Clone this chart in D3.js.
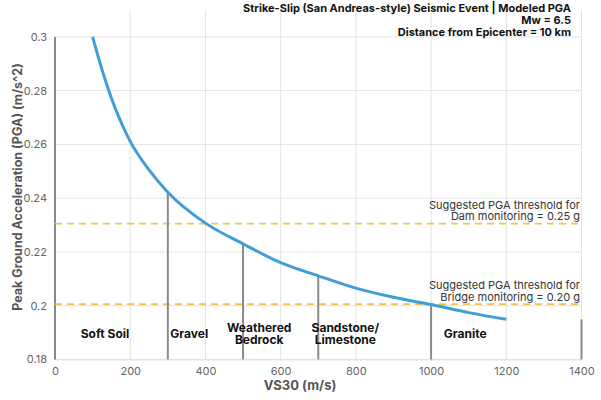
<!DOCTYPE html>
<html>
<head>
<meta charset="utf-8">
<script src="https://cdn.jsdelivr.net/npm/d3@7"></script>
<style>
  html, body { margin: 0; padding: 0; background: #fff; }
  svg { display: block; font-family: "Inter", "Open Sans", sans-serif; }
</style>
</head>
<body>
<svg id="chart" width="601" height="400"></svg>
<script>
// ---- Data ----
const vs30 = [100, 125, 150, 175, 200, 250, 300, 400, 500, 600, 700, 800, 900, 1000, 1100, 1200];
const pga  = [0.300, 0.2878, 0.2772, 0.2685, 0.2611, 0.2505, 0.2422, 0.2307, 0.2230, 0.2160, 0.2111, 0.2065, 0.2031, 0.2004, 0.1974, 0.1949];

const boundaryX   = [300, 500, 700, 1000, 1400];
const boundaryTop = [0.2422, 0.2230, 0.2111, 0.2004, 0.1949];

const zoneNames = [["Soft Soil"], ["Gravel"], ["Weathered", "Bedrock"], ["Sandstone/", "Limestone"], ["Granite"]];
const zoneLabelX = [133, 357, 543, 772, 1091];

const thresholdValues = [0.2305, 0.2006];
const thresholdLines = [
  ["Suggested PGA threshold for", "Dam monitoring = 0.25 g"],
  ["Suggested PGA threshold for", "Bridge monitoring = 0.20 g"]
];

const xTicks = [0, 200, 400, 600, 800, 1000, 1200, 1400];
const xTickLabels = ["0", "200", "400", "600", "800", "1000", "1200", "1400"];
const yTicks = [0.18, 0.2, 0.22, 0.24, 0.26, 0.28, 0.3];
const yTickLabels = ["0.18", "0.2", "0.22", "0.24", "0.26", "0.28", "0.3"];

const titleLines = [
  "Strike-Slip (San Andreas-style) Seismic Event | Modeled PGA",
  "Mw = 6.5",
  "Distance from Epicenter = 10 km"
];

// ---- Layout ----
const svg = d3.select("#chart");
const pL = 55, pR = 581.5, pT = 10, pB = 359.4;
const x = d3.scaleLinear().domain([0, 1400]).range([pL, pR]);
const y = d3.scaleLinear().domain([0.18, 0.31]).range([pB, pT]);

// grid
const grid = svg.append("g");
grid.selectAll("line.h").data(yTicks).join("line")
  .attr("x1", pL).attr("x2", pR)
  .attr("y1", d => y(d)).attr("y2", d => y(d))
  .attr("stroke", "#e3e3e3").attr("stroke-width", 1);
grid.selectAll("line.v").data(xTicks.slice(1)).join("line")
  .attr("x1", d => x(d)).attr("x2", d => x(d))
  .attr("y1", pT).attr("y2", pB)
  .attr("stroke", "#e3e3e3").attr("stroke-width", 1);

// axes
const xAxis = d3.axisBottom(x).tickValues(xTicks).tickFormat((d, i) => xTickLabels[i]).tickSize(0).tickPadding(8);
const gx = svg.append("g").attr("transform", `translate(0,${pB})`).call(xAxis);
gx.select(".domain").attr("stroke", "#dedede");
gx.selectAll("text").attr("fill", "#666").attr("font-size", 11);

const yAxis = d3.axisLeft(y).tickValues(yTicks).tickFormat((d, i) => yTickLabels[i]).tickSize(0).tickPadding(8);
const gy = svg.append("g").attr("transform", `translate(${pL},0)`).call(yAxis);
gy.select(".domain").remove();
gy.selectAll("text").attr("fill", "#666").attr("font-size", 11);
gx.attr("font-family", null); gy.attr("font-family", null);
svg.append("line")
  .attr("x1", pL).attr("x2", pL)
  .attr("y1", y(0.3)).attr("y2", pB)
  .attr("stroke", "#8a8a8a").attr("stroke-width", 2);

// thresholds
svg.selectAll("line.thr").data(thresholdValues).join("line")
  .attr("x1", pL).attr("x2", pR)
  .attr("y1", d => y(d)).attr("y2", d => y(d))
  .attr("stroke", "#f7c444").attr("stroke-width", 1.8)
  .attr("stroke-dasharray", "7,5");
thresholdValues.forEach((v, i) => {
  const t = svg.append("text")
    .attr("text-anchor", "end")
    .attr("font-size", 11).attr("fill", "#333");
  thresholdLines[i].forEach((s, j) => {
    t.append("tspan").attr("x", pR - 1.5)
      .attr("y", y(v) - 15 + j * 11.8)
      .text(s);
  });
});

// boundaries
svg.selectAll("line.b").data(boundaryX).join("line")
  .attr("x1", d => x(d)).attr("x2", d => x(d))
  .attr("y1", (d, i) => y(boundaryTop[i])).attr("y2", pB)
  .attr("stroke", "#8a8a8a").attr("stroke-width", 2);

// curve
const pts = vs30.map((v, i) => [v, pga[i]]);
svg.append("path").datum(pts)
  .attr("fill", "none").attr("stroke", "#409ed6").attr("stroke-width", 3)
  .attr("d", d3.line().x(d => x(d[0])).y(d => y(d[1])).curve(d3.curveMonotoneX));

// zone labels
zoneNames.forEach((lines, i) => {
  const t = svg.append("text").attr("text-anchor", "middle")
    .attr("font-size", 12).attr("font-weight", 700).attr("fill", "#111");
  const n = lines.length;
  lines.forEach((s, j) => {
    t.append("tspan").attr("x", x(zoneLabelX[i]))
      .attr("y", 338 + (j - (n - 1) / 2) * 12)
      .text(s);
  });
});

// axis titles
svg.append("text").attr("x", 300).attr("y", 390).attr("text-anchor", "middle")
  .attr("font-size", 13).attr("font-weight", 700).attr("fill", "#555")
  .text("VS30 (m/s)");
svg.append("text").attr("transform", "translate(22,187) rotate(-90)")
  .attr("text-anchor", "middle")
  .attr("font-size", 12.5).attr("font-weight", 700).attr("fill", "#555")
  .text("Peak Ground Acceleration (PGA) (m/s^2)");

// title
const tt = svg.append("text").attr("text-anchor", "end")
  .attr("font-size", 11).attr("font-weight", 700).attr("fill", "#111");
titleLines.forEach((s, j) => {
  tt.append("tspan").attr("x", 571).attr("y", 11.5 + j * 12.2).text(s);
});
</script>
</body>
</html>
